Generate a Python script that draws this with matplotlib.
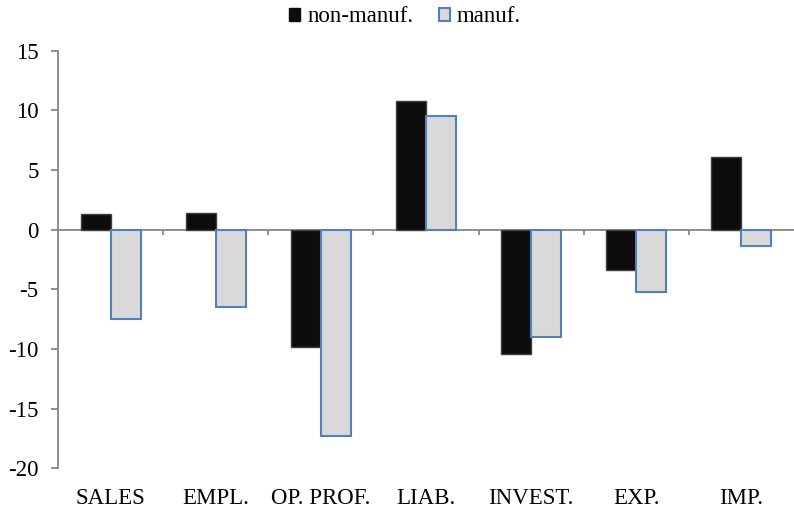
import matplotlib
matplotlib.use("Agg")
import matplotlib.pyplot as plt
import numpy as np
from matplotlib.patches import Patch

categories = ["SALES", "EMPL.", "OP. PROF.", "LIAB.", "INVEST.", "EXP.", "IMP."]
non_manuf = [1.3, 1.4, -9.8, 10.8, -10.4, -3.35, 6.1]
manuf = [-7.5, -6.5, -17.3, 9.5, -9.0, -5.25, -1.4]
y_ticks = [-20, -15, -10, -5, 0, 5, 10, 15]

plt.rcParams["font.family"] = ["Liberation Serif", "DejaVu Serif"]
fs = 16.5

fig = plt.figure(figsize=(7.94, 5.11), dpi=100)
ax = fig.add_axes([0.073, 0.0836, 0.927, 0.817])

x = np.arange(len(categories))
w = 0.285
ax.bar(x - w / 2, non_manuf, width=w, color="#0d0d0d", edgecolor="#404040",
       linewidth=1.0, zorder=3)
ax.bar(x + w / 2, manuf, width=w, color="#d9d9d9", edgecolor="#4f81bd",
       linewidth=1.5, zorder=3)

ax.set_xlim(-0.5, len(categories) - 0.5)
ax.set_ylim(-20, 15)
ax.set_yticks(y_ticks)
ax.set_yticklabels([str(t) for t in y_ticks])
ax.set_xticks(x)
ax.set_xticklabels(categories)

grey = "#868686"
for side in ("top", "right", "bottom"):
    ax.spines[side].set_visible(False)
ax.spines["left"].set_color(grey)
ax.spines["left"].set_linewidth(1.3)

ax.tick_params(axis="y", direction="out", length=5, width=1.3, color=grey,
               labelsize=fs, pad=9)
ax.tick_params(axis="x", length=0, labelsize=fs, pad=14)

# zero line with category separator ticks
ax.axhline(0, color=grey, linewidth=1.3, zorder=2)
bounds = np.arange(0.5, len(categories) - 0.5, 1.0)
ax.vlines(bounds, -0.45, 0, color=grey, linewidth=1.3, zorder=2)

handles = [Patch(facecolor="#0d0d0d", edgecolor="#0d0d0d", label="non-manuf."),
           Patch(facecolor="#d9d9d9", edgecolor="#4f81bd", linewidth=1.5, label="manuf.")]
fig.legend(handles=handles, loc="center", bbox_to_anchor=(0.51, 0.967), ncol=2,
           frameon=False, fontsize=fs, handlelength=0.48, handleheight=0.48,
           handletextpad=0.3, columnspacing=1.1, borderpad=0)

fig.savefig("out.png", dpi=100)
